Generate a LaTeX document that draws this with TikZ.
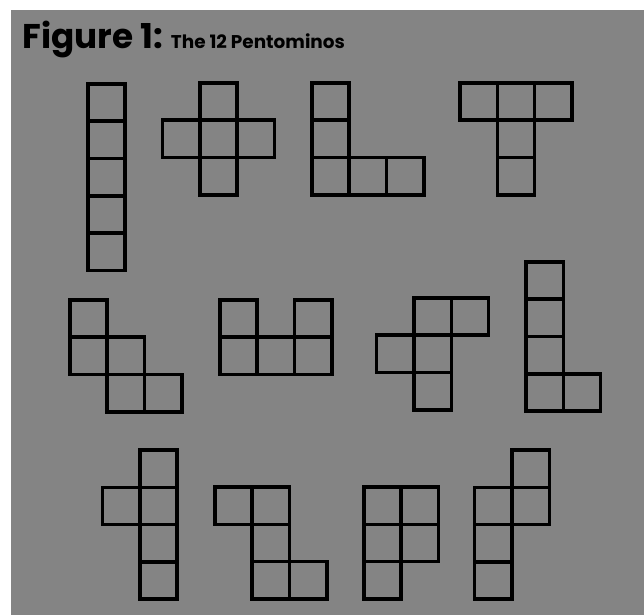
\documentclass[tikz,border=0pt]{standalone}
\usepackage{fontspec}
\setmainfont{Poppins}
\usepackage{xcolor}
\usepackage{tikz}
\usetikzlibrary{positioning}
\definecolor{screencolor}{RGB}{132,132,132}

\begin{document}
\begin{tikzpicture}[
  x=0.02cm, y=-0.02cm,
  node distance=0pt,
  cell/.style={draw, line width=2pt, minimum size=0.746cm, inner sep=0pt, outer sep=0pt},
  title/.style={font=\bfseries\fontsize{19.5}{20}\selectfont, inner sep=0pt, anchor=base west},
  subtitle/.style={font=\bfseries\fontsize{10.5}{11}\selectfont, inner sep=0pt, anchor=base west},
]
\useasboundingbox (0,0) rectangle (644,615);
\fill[screencolor] (11,10) rectangle (644,615);

% heading
\node[title] (fig) at (22,49) {Figure 1:};
\node[subtitle, right=4pt of fig.base east, anchor=base west] (name) {The 12 Pentominos};

% first row: I, X, V, T
\node[cell] (i1) at (106.6,102.6) {};
\node[cell, below=of i1] (i2) {};
\node[cell, below=of i2] (i3) {};
\node[cell, below=of i3] (i4) {};
\node[cell, below=of i4] (i5) {};

\node[cell] (x1) at (218.6,101.6) {};
\node[cell, below=of x1] (x2) {};
\node[cell, left=of x2] (x3) {};
\node[cell, right=of x2] (x4) {};
\node[cell, below=of x2] (x5) {};

\node[cell] (v1) at (330.6,101.6) {};
\node[cell, below=of v1] (v2) {};
\node[cell, below=of v2] (v3) {};
\node[cell, right=of v3] (v4) {};
\node[cell, right=of v4] (v5) {};

\node[cell] (t1) at (478.6,101.6) {};
\node[cell, right=of t1] (t2) {};
\node[cell, right=of t2] (t3) {};
\node[cell, below=of t2] (t4) {};
\node[cell, below=of t4] (t5) {};

% second row: W, U, F, L
\node[cell] (w1) at (88.6,318.6) {};
\node[cell, below=of w1] (w2) {};
\node[cell, right=of w2] (w3) {};
\node[cell, below=of w3] (w4) {};
\node[cell, right=of w4] (w5) {};

\node[cell] (u1) at (238.6,318.6) {};
\node[cell, below=of u1] (u2) {};
\node[cell, right=of u2] (u3) {};
\node[cell, right=of u3] (u4) {};
\node[cell, above=of u4] (u5) {};

\node[cell] (f1) at (432.6,316.6) {};
\node[cell, right=of f1] (f2) {};
\node[cell, below=of f1] (f3) {};
\node[cell, left=of f3] (f4) {};
\node[cell, below=of f3] (f5) {};

\node[cell] (l1) at (544.6,280.6) {};
\node[cell, below=of l1] (l2) {};
\node[cell, below=of l2] (l3) {};
\node[cell, below=of l3] (l4) {};
\node[cell, right=of l4] (l5) {};

% third row: Y, Z, P, N
\node[cell] (y1) at (158.6,468.6) {};
\node[cell, below=of y1] (y2) {};
\node[cell, below=of y2] (y3) {};
\node[cell, below=of y3] (y4) {};
\node[cell, left=of y2] (y5) {};

\node[cell] (z1) at (233.6,505.6) {};
\node[cell, right=of z1] (z2) {};
\node[cell, below=of z2] (z3) {};
\node[cell, below=of z3] (z4) {};
\node[cell, right=of z4] (z5) {};

\node[cell] (p1) at (382.6,505.6) {};
\node[cell, right=of p1] (p2) {};
\node[cell, below=of p1] (p3) {};
\node[cell, right=of p3] (p4) {};
\node[cell, below=of p3] (p5) {};

\node[cell] (n1) at (530.6,468.6) {};
\node[cell, below=of n1] (n2) {};
\node[cell, left=of n2] (n3) {};
\node[cell, below=of n3] (n4) {};
\node[cell, below=of n4] (n5) {};
\end{tikzpicture}
\end{document}
